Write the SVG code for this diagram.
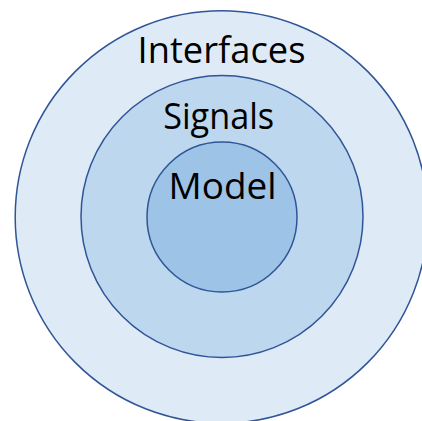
<svg xmlns="http://www.w3.org/2000/svg" width="422" height="421" viewBox="0 0 422 421">
  <style>
    .ring { stroke: #2F5597; stroke-width: 1.5; }
    .outer { fill: #DEEBF7; }
    .middle { fill: #BDD7EE; }
    .inner { fill: #9DC3E6; }
    .label { font-family: "Open Sans", "Noto Sans", "Liberation Sans", sans-serif; font-size: 37px; fill: #000000; text-anchor: middle; }
  </style>
  <rect width="422" height="421" fill="#FFFFFF"/>
  <g id="interfaces">
    <circle class="ring outer" cx="221.5" cy="217" r="206.3"/>
    <text class="label" x="221.5" y="62.7" textLength="168" lengthAdjust="spacingAndGlyphs">Interfaces</text>
  </g>
  <g id="signals">
    <circle class="ring middle" cx="222" cy="216.5" r="141"/>
    <text class="label" x="218.7" y="128.5" textLength="111" lengthAdjust="spacingAndGlyphs">Signals</text>
  </g>
  <g id="model">
    <circle class="ring inner" cx="222" cy="217" r="75"/>
    <text class="label" x="222.5" y="199.3" textLength="108" lengthAdjust="spacingAndGlyphs">Model</text>
  </g>
  <g id="connectors"/>
</svg>
